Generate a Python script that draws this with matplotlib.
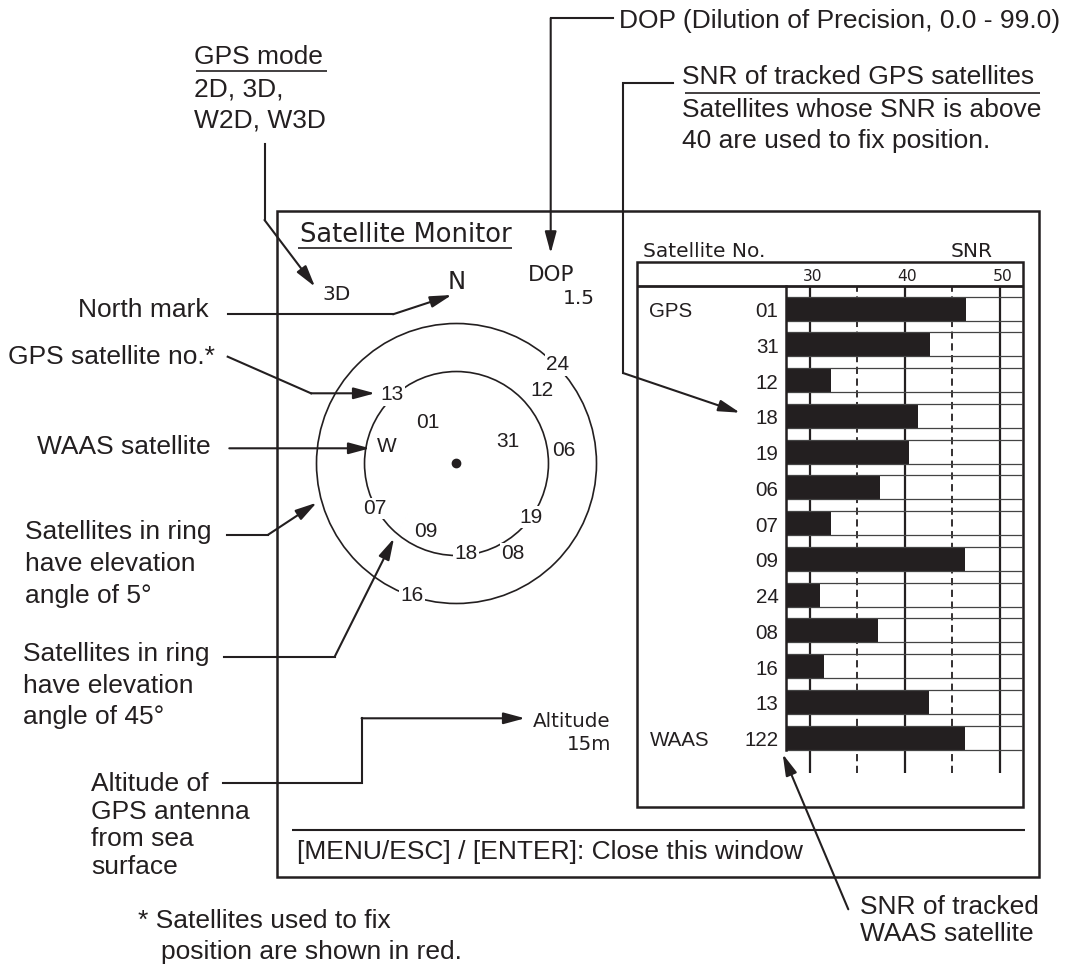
import numpy as np
import matplotlib
matplotlib.use("Agg")
import matplotlib.pyplot as plt
from matplotlib.patches import Rectangle, Circle
from matplotlib import transforms

plt.rcParams['font.family'] = ['Liberation Sans', 'DejaVu Sans']

INK = '#231f20'
W, H = 1070, 964
PX = 100 / 72.0

# SNR bar panel
sat_no = ["01", "31", "12", "18", "19", "06", "07", "09", "24", "08", "16", "13", "122"]
sat_grp = ["GPS", "", "", "", "", "", "", "", "", "", "", "", "WAAS"]
snr = [46.4, 42.6, 32.2, 41.4, 40.4, 37.4, 32.2, 46.3, 31.1, 37.2, 31.5, 42.5, 46.3]
snr_solid = [30, 40, 50]
snr_dash = [35, 45]
snr_min, snr_max = 27.5, 52.4

# sky plot (azimuth deg clockwise from north, radius as fraction of 5 deg ring)
sky_lbl = ["13", "12", "24", "01", "W", "31", "06", "07", "19", "09", "18", "08", "16"]
sky_az = [316.6, 49.5, 45.8, 324.8, 283.6, 67.2, 83.2, 241.2, 125.8, 204.3, 174.2, 147.7, 198.7]
sky_r = [0.674, 0.80, 1.01, 0.357, 0.509, 0.401, 0.773, 0.664, 0.656, 0.534, 0.645, 0.759, 0.999]
rings = [1.0, 0.657]   # elevation 5 deg, 45 deg

fig = plt.figure(figsize=(W / 100, H / 100), dpi=100)
ax = fig.add_axes([0, 0, 1, 1])
ax.set_xlim(0, W)
ax.set_ylim(H, 0)
ax.axis('off')


def txt(x, yc, s, size, ha='left', fam=None, a=ax, tr=None):
    # yc is the visual middle of capitals, in pixels
    kw = {}
    if fam:
        kw['family'] = fam
    if tr is not None:
        kw['transform'] = tr
    a.text(x, yc + 0.358 * size * PX, s, fontsize=size, ha=ha, va='baseline',
           color=INK, **kw)


def pointer(pts):
    xs = [p[0] for p in pts]
    ys = [p[1] for p in pts]
    if len(pts) > 2:
        ax.plot(xs[:-1], ys[:-1], color=INK, lw=1.5, solid_joinstyle='miter')
    ax.annotate('', xy=pts[-1], xytext=pts[-2],
                arrowprops=dict(arrowstyle='-|>,head_length=1.3,head_width=0.35',
                                color=INK, lw=1.5, shrinkA=0, shrinkB=0,
                                mutation_scale=10))


def hline(x0, x1, y, lw=1.2):
    ax.plot([x0, x1], [y, y], color=INK, lw=lw, solid_capstyle='butt')


# frames
ax.add_patch(Rectangle((276.7, 210.5), 1039 - 276.7, 876.7 - 210.5,
                       fill=False, lw=1.8, ec=INK))
ax.add_patch(Rectangle((637, 262), 1023 - 637, 806.7 - 262,
                       fill=False, lw=1.8, ec=INK))
hline(637, 1023, 286, lw=2.0)
hline(292, 1025, 830, lw=1.5)

# screen texts
txt(300, 233, "Satellite Monitor", 18.5, fam='DejaVu Sans')
hline(298, 512, 247.7)
txt(322.7, 293, "3D", 14.5, fam='DejaVu Sans')
txt(456.7, 280, "N", 17.5, ha='center', fam='DejaVu Sans')
txt(528, 273, "DOP", 15.5, fam='DejaVu Sans')
txt(595, 296.7, "1.5", 14.5, ha='right', fam='DejaVu Sans')
txt(533.3, 720, "Altitude", 14.3, fam='DejaVu Sans')
txt(611, 742.7, "15m", 14.3, ha='right', fam='DejaVu Sans')
txt(643, 250, "Satellite No.", 14.5, fam='DejaVu Sans')
txt(993, 250, "SNR", 14.5, ha='right', fam='DejaVu Sans')
txt(296.8, 850, "[MENU/ESC] / [ENTER]: Close this window", 19)

# callout texts
txt(194, 55, "GPS mode", 19)
hline(195.6, 327, 70.7)
txt(194, 87.3, "2D, 3D,", 19)
txt(194, 118.3, "W2D, W3D", 19)
txt(618.8, 18.3, "DOP (Dilution of Precision, 0.0 - 99.0)", 19)
txt(681.5, 75, "SNR of tracked GPS satellites", 19)
hline(685, 1039.6, 93.3)
txt(681.5, 107.3, "Satellites whose SNR is above", 19)
txt(681.5, 138.3, "40 are used to fix position.", 19)
txt(208.3, 308, "North mark", 19, ha='right')
txt(215, 355, "GPS satellite no.*", 19, ha='right')
txt(210.7, 445, "WAAS satellite", 19, ha='right')
for yy, s in zip([530, 561.7, 593.3],
                 ["Satellites in ring", "have elevation", "angle of 5\u00b0"]):
    txt(25, yy, s, 19)
for yy, s in zip([651.7, 683.3, 715],
                 ["Satellites in ring", "have elevation", "angle of 45\u00b0"]):
    txt(23.4, yy, s, 19)
for yy, s in zip([781.7, 809.3, 836.7, 865],
                 ["Altitude of", "GPS antenna", "from sea", "surface"]):
    txt(91.3, yy, s, 19)
txt(137.7, 918.3, "* Satellites used to fix", 19)
txt(161, 950, "position are shown in red.", 19)
txt(859.5, 905, "SNR of tracked", 19)
txt(859.5, 931.7, "WAAS satellite", 19)

# pointers
pointer([(264.5, 144.3), (264.5, 220), (315, 286.7)])
pointer([(612.6, 18.3), (550.7, 18.3), (550.7, 253.3)])
pointer([(672.9, 83.3), (623, 83.3), (623, 373), (740, 412.7)])
pointer([(228.3, 314.3), (393, 314.3), (451.7, 295)])
pointer([(227.7, 356.7), (311, 393.3), (375, 393.3)])
pointer([(229.3, 448.3), (370, 448.3)])
pointer([(226.7, 535), (267.7, 535), (316.7, 502.7)])
pointer([(223.8, 656.7), (334.7, 656.7), (394, 538.3)])
pointer([(223, 783.3), (361.6, 783.3), (361.6, 718.3), (525, 718.3)])
pointer([(848.3, 909.3), (782.7, 754)])

# sky plot
cx, cy, R = 456.5, 463.5, 140
pax = fig.add_axes([(cx - R) / W, 1 - (cy + R) / H, 2 * R / W, 2 * R / H],
                   projection='polar')
pax.set_theta_zero_location('N')
pax.set_theta_direction(-1)
pax.set_ylim(0, 1)
pax.axis('off')
# r=1 is the axes edge, so a ring of radius r is a circle of r/2 in axes units
for r in rings:
    pax.add_patch(Circle((0.5, 0.5), r / 2, transform=pax.transAxes, fill=False,
                         ec=INK, lw=1.2, clip_on=False))
pax.plot([0], [0], 'o', ms=6, color=INK)
for lbl, az, r in zip(sky_lbl, sky_az, sky_r):
    pax.text(np.radians(az), r, lbl, ha='center', va='center', fontsize=15,
             color=INK, zorder=5,
             bbox=dict(boxstyle='square,pad=0.06', fc='white', ec='none'))

# SNR bars
row0, pitch = 308.7, 35.75
top_px, bot_px = 286, 773
x0_px, x1_px = 786, 1022.7
bax = fig.add_axes([x0_px / W, 1 - bot_px / H, (x1_px - x0_px) / W, (bot_px - top_px) / H])
bax.set_xlim(snr_min, snr_max)
bax.set_ylim((bot_px - row0) / pitch, (top_px - row0) / pitch)
bax.axis('off')
idx = np.arange(len(snr))
for v in snr_solid:
    bax.axvline(v, color=INK, lw=1.6, zorder=1)
for v in snr_dash:
    bax.axvline(v, color=INK, lw=1.3, ls=(0, (4, 2.5)), zorder=1)
bax.barh(idx, np.array(snr) - snr_min, left=snr_min, height=0.67, color=INK, zorder=2)
bax.barh(idx, snr_max - snr_min, left=snr_min, height=0.67, fill=False,
         edgecolor='#444444', lw=0.9, zorder=3)
bax.plot([snr_min, snr_min], [(top_px - row0) / pitch, idx[-1] + 0.335],
         color=INK, lw=1.8, clip_on=False, zorder=4)

tr_x = transforms.blended_transform_factory(bax.transData, ax.transData)
for v in snr_solid:
    txt(v + 0.25, 275, str(v), 11.2, ha='center', fam='DejaVu Sans', tr=tr_x)

tr_y = transforms.blended_transform_factory(ax.transData, bax.transData)
for i, (no, grp) in enumerate(zip(sat_no, sat_grp)):
    yb = i + (1 + 0.358 * 14.8 * PX) / pitch
    bax.text(778.5, yb, no, fontsize=14.8, ha='right', va='baseline', color=INK,
             transform=tr_y)
    if grp:
        bax.text(649.5, yb, grp, fontsize=14.8, ha='left', va='baseline', color=INK,
                 transform=tr_y)

fig.savefig("out.png", dpi=100, facecolor='white')
